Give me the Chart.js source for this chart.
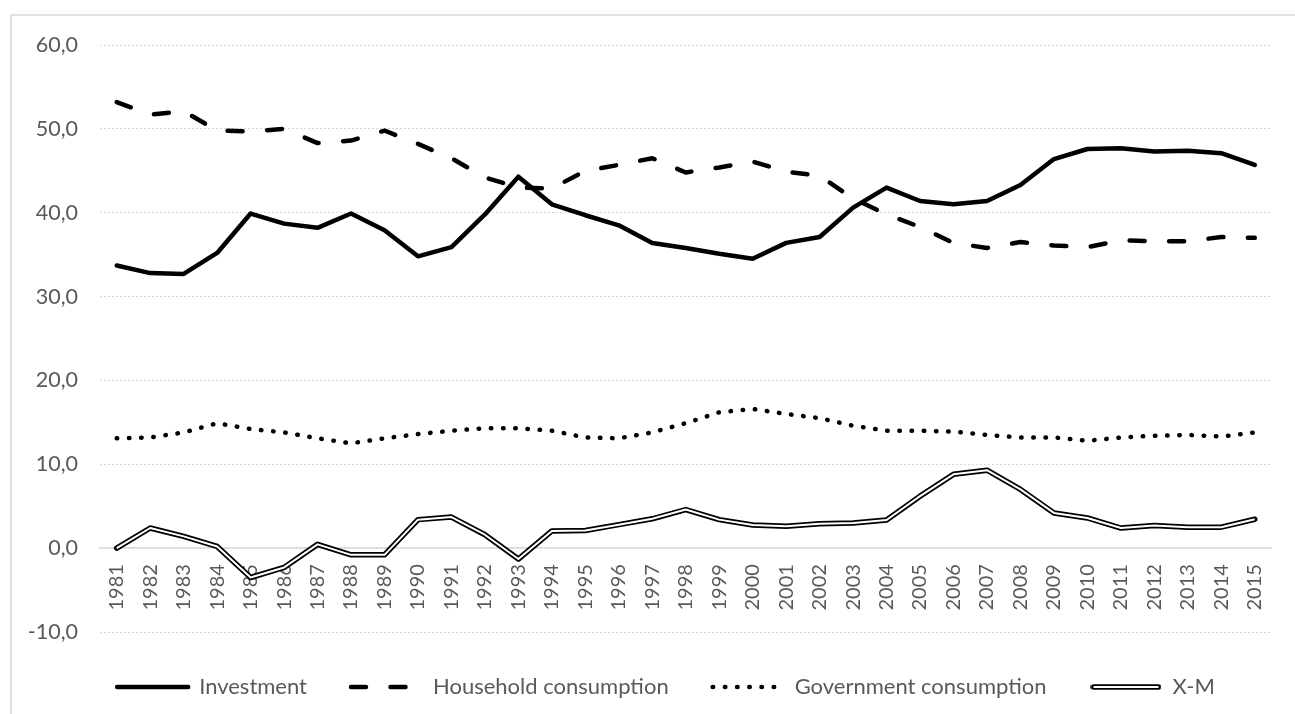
<!DOCTYPE html>
<html>
<head>
<meta charset="utf-8">
<script src="https://cdn.jsdelivr.net/npm/chart.js@4.4.1/dist/chart.umd.min.js"></script>
<style>
    html, body { margin: 0; padding: 0; background: #fff; }
</style>
</head>
<body>
<canvas id="graficoPib" width="1295" height="714"></canvas>
<script>
const anios = ['1981','1982','1983','1984','1985','1986','1987','1988','1989','1990',
    '1991','1992','1993','1994','1995','1996','1997','1998','1999','2000',
    '2001','2002','2003','2004','2005','2006','2007','2008','2009','2010',
    '2011','2012','2013','2014','2015']

const inversion = [33.7, 32.8, 32.7, 35.2, 39.9, 38.7, 38.2, 39.9, 37.9, 34.8,
    35.9, 39.8, 44.3, 41.0, 39.7, 38.5, 36.4, 35.8, 35.1, 34.5,
    36.4, 37.1, 40.6, 43.0, 41.4, 41.0, 41.4, 43.3, 46.4, 47.6,
    47.7, 47.3, 47.4, 47.1, 45.7]

const consumoHogares = [53.2, 51.7, 52.1, 49.8, 49.7, 50.0, 48.3, 48.6, 49.8, 48.2,
    46.5, 44.2, 43.0, 42.9, 45.0, 45.7, 46.5, 44.8, 45.4, 46.1,
    44.9, 44.4, 41.7, 39.8, 38.3, 36.4, 35.8, 36.5, 36.1, 35.9,
    36.7, 36.6, 36.6, 37.1, 37.0]

const consumoGobierno = [13.1, 13.2, 13.8, 14.9, 14.2, 13.8, 13.1, 12.5, 13.1, 13.6,
    14.0, 14.3, 14.3, 14.0, 13.2, 13.1, 13.8, 14.9, 16.2, 16.6,
    16.0, 15.5, 14.6, 14.0, 14.0, 13.9, 13.5, 13.2, 13.2, 12.8,
    13.2, 13.4, 13.5, 13.3, 13.8]

const exportNetas = [0.0, 2.4, 1.4, 0.2, -3.5, -2.3, 0.45, -0.8, -0.8, 3.4,
    3.7, 1.6, -1.3, 2.05, 2.1, 2.8, 3.5, 4.6, 3.4, 2.75,
    2.6, 2.9, 3.0, 3.35, 6.2, 8.8, 9.3, 7.0, 4.2, 3.6,
    2.4, 2.7, 2.5, 2.5, 3.45]

const etiquetas = ['Investment', 'Household consumption', 'Government consumption', 'X-M']
const ticksY = [-10, 0, 10, 20, 30, 40, 50, 60]

document.addEventListener('DOMContentLoaded',()=>{

    const gris = '#595959'
    const familia = 'Lato, "Liberation Sans", sans-serif'

    // simbolo de doble linea para X-M en la leyenda
    let simboloXM = document.createElement('canvas')
    simboloXM.width = 71
    simboloXM.height = 8
    let c = simboloXM.getContext('2d')
    c.strokeStyle = '#000'
    c.lineCap = 'round'
    c.lineWidth = 5.5
    c.beginPath(); c.moveTo(3, 4); c.lineTo(68, 4); c.stroke()
    c.strokeStyle = '#fff'
    c.lineCap = 'butt'
    c.lineWidth = 2
    c.beginPath(); c.moveTo(3, 4); c.lineTo(68, 4); c.stroke()

    const marco = {
        id: 'marco',
        afterLayout(chart) {
            // la leyenda del original esta un poco a la derecha del centro
            chart.legend.left += 22
            chart.legend.right += 22
        },
        beforeDraw(chart) {
            let ctx = chart.ctx
            ctx.save()
            ctx.strokeStyle = '#d9d9d9'
            ctx.lineWidth = 1.5
            ctx.beginPath()
            ctx.moveTo(11, chart.height)
            ctx.lineTo(11, 15)
            ctx.lineTo(chart.width, 15)
            ctx.stroke()
            ctx.restore()
        }
    }

    let lienzo = document.getElementById('graficoPib')

    let grafico = new Chart(lienzo, {
        type: 'line',
        data: {
            labels: anios,
            datasets: [
                {
                    label: etiquetas[0],
                    data: inversion,
                    borderColor: '#000',
                    borderWidth: 4.5,
                    borderCapStyle: 'round',
                    borderJoinStyle: 'round',
                    pointRadius: 0,
                    pointStyle: 'line'
                },
                {
                    label: etiquetas[1],
                    data: consumoHogares,
                    borderColor: '#000',
                    borderWidth: 4.5,
                    borderDash: [15, 24.5],
                    borderCapStyle: 'round',
                    borderJoinStyle: 'round',
                    pointRadius: 0,
                    pointStyle: 'line'
                },
                {
                    label: etiquetas[2],
                    data: consumoGobierno,
                    borderColor: '#000',
                    borderWidth: 4.5,
                    borderDash: [0.5, 11.7],
                    borderCapStyle: 'round',
                    borderJoinStyle: 'round',
                    pointRadius: 0,
                    pointStyle: 'line'
                },
                {
                    label: etiquetas[3],
                    data: exportNetas,
                    borderColor: '#000',
                    borderWidth: 5.5,
                    borderCapStyle: 'round',
                    borderJoinStyle: 'round',
                    pointRadius: 0,
                    pointStyle: simboloXM
                },
                {
                    label: 'X-M interior',
                    data: exportNetas,
                    borderColor: '#fff',
                    borderWidth: 2,
                    borderJoinStyle: 'round',
                    pointRadius: 0,
                    order: -1
                }
            ]
        },
        options: {
            responsive: false,
            animation: false,
            layout: {
                padding: {left: 10, right: 17, top: 45, bottom: 6}
            },
            plugins: {
                tooltip: {enabled: false},
                legend: {
                    position: 'bottom',
                    labels: {
                        usePointStyle: true,
                        pointStyleWidth: 71,
                        padding: 44,
                        color: gris,
                        font: {family: familia, size: 22},
                        generateLabels: chart => chart.data.datasets.slice(0, 4).map((ds, i) => ({
                            text: ds.label,
                            fontColor: gris,
                            fillStyle: ds.borderColor,
                            strokeStyle: ds.borderColor,
                            lineWidth: ds.borderWidth,
                            lineDash: ds.borderDash || [],
                            lineCap: ds.borderCapStyle,
                            pointStyle: ds.pointStyle,
                            hidden: false,
                            datasetIndex: i
                        }))
                    }
                }
            },
            scales: {
                x: {
                    type: 'category',
                    offset: true,
                    position: {y: 0},
                    grid: {display: false, drawTicks: false},
                    border: {color: '#d9d9d9', width: 1.5},
                    ticks: {
                        color: gris,
                        font: {family: familia, size: 20},
                        minRotation: 90,
                        maxRotation: 90,
                        autoSkip: false,
                        padding: 16
                    }
                },
                y: {
                    min: ticksY[0],
                    max: ticksY[ticksY.length - 1],
                    grid: {color: '#d9d9d9', lineWidth: 1, drawTicks: false},
                    border: {display: false, dash: [2, 2]},
                    afterBuildTicks: axis => { axis.ticks = ticksY.map(v => ({value: v})) },
                    afterFit: axis => { axis.width = 90 },
                    ticks: {
                        color: gris,
                        font: {family: familia, size: 21.5},
                        padding: 22,
                        callback: v => v.toFixed(1).replace('.', ',')
                    }
                }
            }
        },
        plugins: [marco]
    })
})
</script>
</body>
</html>
